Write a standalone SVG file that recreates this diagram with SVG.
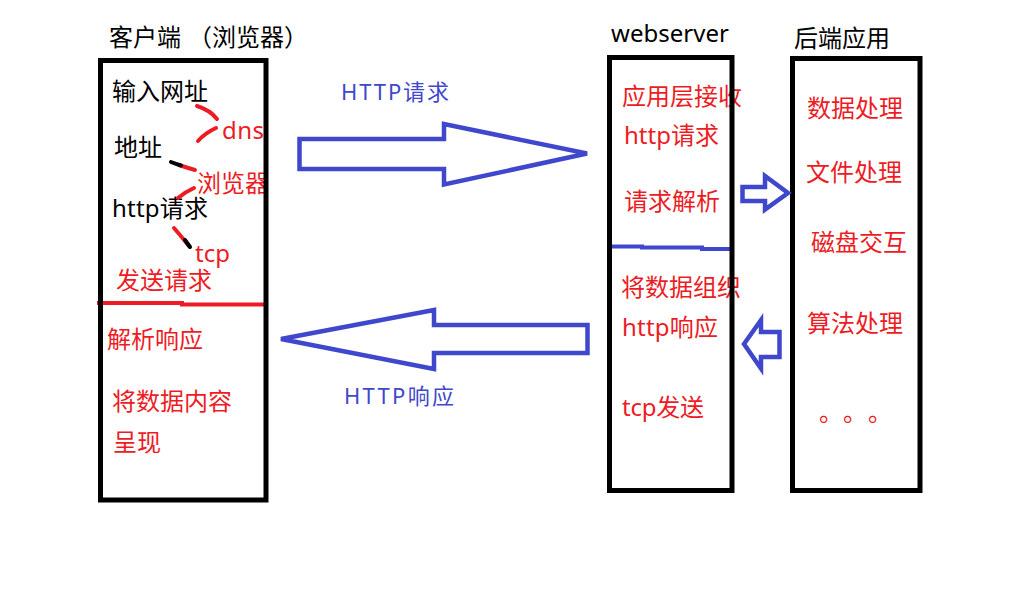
<svg xmlns="http://www.w3.org/2000/svg" width="1018" height="604" viewBox="0 0 1018 604">
  <style>
    .box { fill: none; stroke: #000; stroke-width: 5; }
    .t { font-family: "Noto Sans", "Noto Sans CJK SC", sans-serif; font-size: 24px; }
    .k { fill: #000; }
    .r { fill: #ED1C24; }
    .b { fill: #3F48CC; font-size: 22px; }
    .arrow { fill: none; stroke: #3F48CC; stroke-width: 4.5; stroke-linejoin: miter; }
    .pen { fill: none; stroke: #ED1C24; stroke-width: 4; stroke-linecap: round; }
    .pen-k { fill: none; stroke: #000; stroke-width: 4; stroke-linecap: round; }
  </style>
  <rect width="1018" height="604" fill="#fff"/>

  <!-- client / browser -->
  <g id="client">
    <text class="t k" y="45.5"><tspan x="109">客户端</tspan><tspan x="188">（浏览器）</tspan></text>
    <text class="t k" x="112" y="100">输入网址</text>
    <text class="t k" x="114" y="156">地址</text>
    <text class="t k" x="112" y="217" textLength="96">http请求</text>
    <text class="t r" x="222" y="139" textLength="42">dns</text>
    <text class="t r" x="197" y="191.5">浏览器</text>
    <text class="t r" x="195" y="262" textLength="35">tcp</text>
    <text class="t r" x="116" y="289">发送请求</text>
    <text class="t r" x="107" y="347.5">解析响应</text>
    <text class="t r" x="112" y="409.5">将数据内容</text>
    <text class="t r" x="113" y="450.5">呈现</text>
    <!-- pen strokes linking the steps -->
    <path class="pen" d="M197,106 Q210,110 217,119"/>
    <path class="pen" d="M216,128 Q205,133 198,141"/>
    <path class="pen" d="M179,165 Q188,168 195,170"/>
    <path class="pen-k" d="M171,162 Q176,164 181,165.5"/>
    <path class="pen" d="M194,188 Q185,192 178,198"/>
    <path class="pen" d="M174,228 Q181,236 189,246"/>
    <path class="pen-k" d="M185,240 L190,247"/>
    <path d="M97,303 L182,303 L182,304.5 L268,304.5" fill="none" stroke="#ED1C24" stroke-width="4"/>
    <rect class="box" x="100.5" y="60.5" width="165.5" height="439.5"/>
  </g>

  <!-- web server -->
  <g id="webserver">
    <text class="t k" x="611" y="42" textLength="118">webserver</text>
    <text class="t r" x="622" y="104.5">应用层接收</text>
    <text class="t r" x="624" y="144" textLength="95">http请求</text>
    <text class="t r" x="624" y="210">请求解析</text>
    <text class="t r" x="621" y="295.5">将数据组织</text>
    <text class="t r" x="622" y="336" textLength="96">http响应</text>
    <text class="t r" x="622" y="416" textLength="82">tcp发送</text>
    <path d="M612,246.5 L642,246.5 L642,247.5 L702,247.5 L702,249 L733,249" fill="none" stroke="#3F48CC" stroke-width="4"/>
    <rect class="box" x="609.5" y="57.5" width="122.5" height="433"/>
  </g>

  <!-- backend application -->
  <g id="backend">
    <text class="t k" x="794" y="46.5">后端应用</text>
    <text class="t r" x="807" y="116.5">数据处理</text>
    <text class="t r" x="806" y="180.5">文件处理</text>
    <text class="t r" x="811" y="250.5">磁盘交互</text>
    <text class="t r" x="807" y="331.5">算法处理</text>
    <text class="t r" x="819 843 868" y="421">。。。</text>
    <rect class="box" x="792.5" y="58.5" width="127.5" height="432"/>
  </g>

  <!-- connectors -->
  <g id="connectors">
    <polygon class="arrow" points="299.5,139 444,139 444,124 587,153.5 444,184.5 444,169 299.5,169"/>
    <polygon class="arrow" points="281,339 434,310 434,325 587.5,325 587.5,353 434,353 434,369"/>
    <polygon class="arrow" points="742.5,187 765,187 765,176 788,193 765,209.5 765,201 742.5,201"/>
    <polygon class="arrow" points="744,344 761,320 761,332 779.5,332 779.5,357 761,357 761,368.5"/>
    <text class="t b" x="341" y="100" textLength="108">HTTP请求</text>
    <text class="t b" x="344" y="404" textLength="110">HTTP响应</text>
  </g>
</svg>
